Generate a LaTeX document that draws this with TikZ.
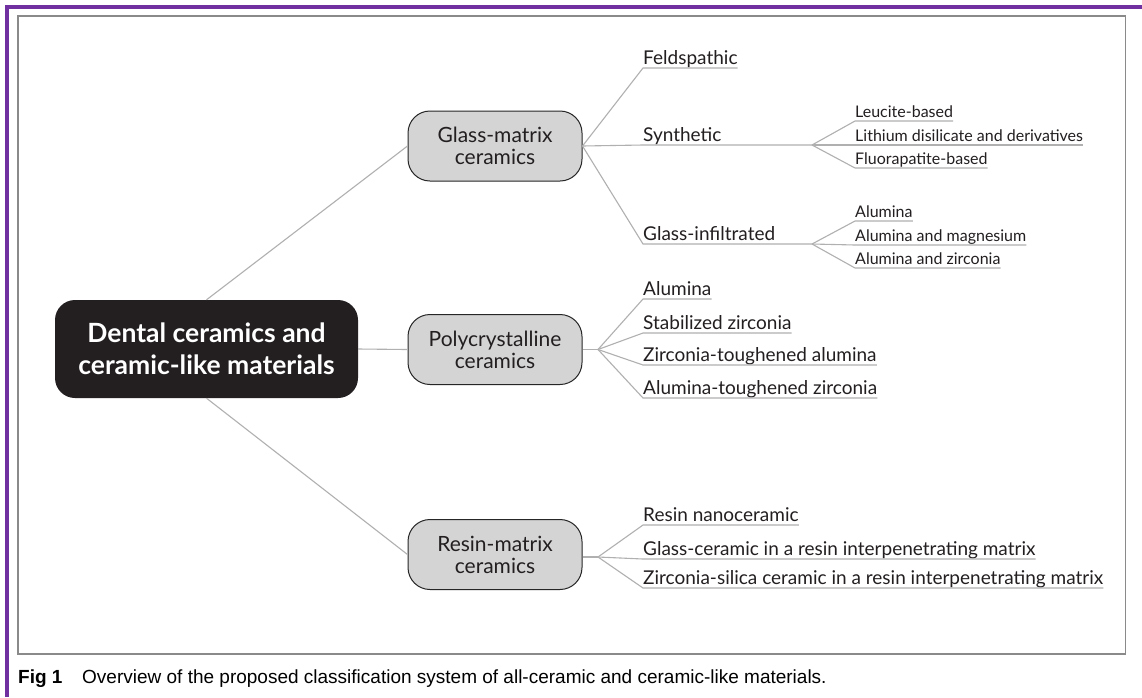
\documentclass[tikz,border=0pt]{standalone}
\usepackage{fontspec}
\newfontfamily\diag{Lato}
\newfontfamily\capf{Liberation Sans}
\definecolor{txt}{HTML}{231F20}
\definecolor{linegray}{HTML}{B0B0B0}
\definecolor{boxgray}{HTML}{D4D4D4}
\definecolor{rootblack}{HTML}{231F20}
\definecolor{frameviolet}{RGB}{112,48,160}
\definecolor{framegray}{HTML}{8A8A8A}
\tikzset{
  leaf/.style={anchor=south west, inner xsep=0pt, inner ysep=1.5pt, text height=0.72em, text depth=0.2em, text=txt, font=\diag\fontsize{19}{22}\selectfont},
  subleaf/.style={leaf, font=\diag\fontsize{16}{19}\selectfont},
  cat/.style={draw=black!85, fill=boxgray, rounded corners=22pt, minimum width=174pt, minimum height=70pt, align=center, line width=1pt, text=txt, font=\diag\fontsize{21}{22}\selectfont},
  root/.style={fill=rootblack, rounded corners=20pt, minimum width=303pt, minimum height=98pt, align=center, text=white, font=\diag\bfseries\fontsize{26.5}{32}\selectfont},
  conn/.style={draw=linegray, line width=1.1pt},
}
\begin{document}
\begin{tikzpicture}[x=1pt,y=-1pt]
\useasboundingbox (0,0) rectangle (1142,697);
\fill[white] (0,0) rectangle (1142,697);
% frames
\draw[frameviolet, line width=3.5pt] (7,697) -- (7,7) -- (1142,7);
\draw[framegray, line width=1.6pt] (18,16) rectangle (1125.5,654);

% main nodes
\node[root] (root) at (206.5,349) {Dental ceramics and\\ceramic-like materials};
\node[cat] (gm) at (495,146) {Glass-matrix\\ceramics};
\node[cat] (pc) at (495,349.5) {Polycrystalline\\ceramics};
\node[cat] (rm) at (495,554.5) {Resin-matrix\\ceramics};

% leaves
\node[leaf] (feld) at (643,68) {Feldspathic};
\node[leaf] (syn) at (643,145) {Synthetic};
\node[leaf] (gi) at (643,244) {Glass-infiltrated};
\node[subleaf] (leu) at (855,121) {Leucite-based};
\node[subleaf] (lit) at (855,145) {Lithium disilicate and derivatives};
\node[subleaf] (flu) at (855,168) {Fluorapatite-based};
\node[subleaf] (ga) at (855,221) {Alumina};
\node[subleaf] (gam) at (855,245) {Alumina and magnesium};
\node[subleaf] (gaz) at (855,268) {Alumina and zirconia};
\node[leaf] (pa) at (643,299) {Alumina};
\node[leaf] (ps) at (643,333) {Stabilized zirconia};
\node[leaf] (pz) at (643,365) {Zirconia-toughened alumina};
\node[leaf] (pt) at (643,398) {Alumina-toughened zirconia};
\node[leaf] (rn) at (643,525) {Resin nanoceramic};
\node[leaf] (rg) at (643,559) {Glass-ceramic in a resin interpenetrating matrix};
\node[leaf] (rz) at (643,588) {Zirconia-silica ceramic in a resin interpenetrating matrix};

% branch points
\coordinate (bs) at (812,145);
\coordinate (bg) at (812,244);
\coordinate (bp) at (598,349.5);
\coordinate (br) at (598,557);

% connectors
\draw[conn] (root.north) -- (gm.west);
\draw[conn] (root.east) -- (pc.west);
\draw[conn] (root.south) -- (rm.west);

\draw[conn] (gm.east) -- (feld.south west) -- (feld.south east);
\draw[conn] (gm.east) -- (syn.south west) -- (bs);
\draw[conn] (gm.east) -- (gi.south west) -- (bg);
\foreach \n in {leu,lit,flu}{\draw[conn] (bs) -- (\n.south west) -- (\n.south east);}
\foreach \n in {ga,gam,gaz}{\draw[conn] (bg) -- (\n.south west) -- (\n.south east);}

\draw[conn] (pc.east) -- (bp);
\foreach \n in {pa,ps,pz,pt}{\draw[conn] (bp) -- (\n.south west) -- (\n.south east);}
\draw[conn] (rm.east |- br) -- (br);
\foreach \n in {rn,rg,rz}{\draw[conn] (br) -- (\n.south west) -- (\n.south east);}

% caption
\node[anchor=base west, inner sep=0pt, font=\capf\bfseries\fontsize{19}{22}\selectfont] (fig) at (18,683) {Fig 1};
\node[anchor=base west, inner sep=0pt, font=\capf\fontsize{19}{22}\selectfont] (cap) at (82,683) {Overview of the proposed classification system of all-ceramic and ceramic-like materials.};
\end{tikzpicture}
\end{document}
